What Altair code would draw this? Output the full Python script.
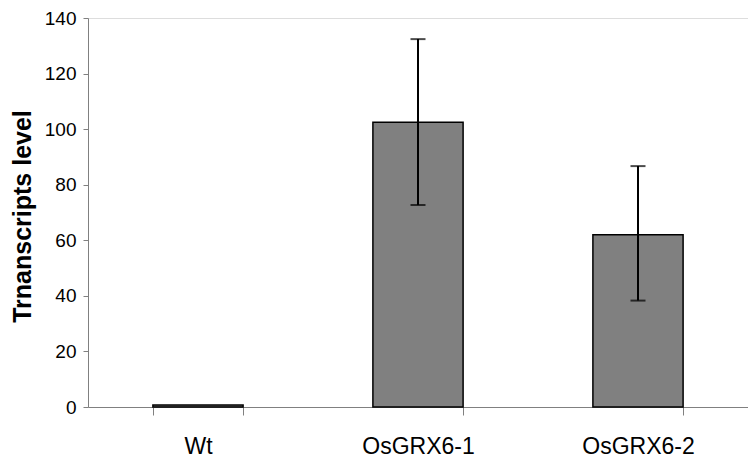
import altair as alt
import pandas as pd

categories = ["Wt", "OsGRX6-1", "OsGRX6-2"]
values = [0.7, 102.5, 62.0]
err_low = [0.7, 72.7, 38.3]
err_high = [0.7, 132.4, 86.7]

df = pd.DataFrame({"cat": categories, "val": values, "lo": err_low, "hi": err_high})
df_err = df[df["cat"] != "Wt"]

FONT = "Liberation Sans"

x = alt.X("cat:N", sort=categories, title=None,
          scale=alt.Scale(paddingInner=0.59, paddingOuter=0.295),
          axis=alt.Axis(labelAngle=0, labelFontSize=23, labelFont=FONT, labelColor="black",
                        tickBand="extent", tickSize=8, tickColor="#808080", domainColor="#808080",
                        labelPadding=20, grid=False))
y = alt.Y("val:Q", title="Trnanscripts level",
          scale=alt.Scale(domain=[0, 140], nice=False),
          axis=alt.Axis(values=[0, 20, 40, 60, 80, 100, 120, 140], labelFontSize=19, labelFont=FONT,
                        labelColor="black", tickSize=5, tickColor="#808080", domainColor="#808080",
                        labelPadding=7, grid=False, titleFont=FONT, titleFontSize=25,
                        titleFontWeight="bold", titleColor="black", titleX=-66, titleY=198,
                        titleBaseline="middle", titleAlign="center"))

bars = alt.Chart(df).mark_bar(color="#808080", stroke="black", strokeWidth=1.5).encode(x=x, y=y)

rules = alt.Chart(df_err).mark_rule(color="black", strokeWidth=2).encode(
    x=alt.X("cat:N", sort=categories), y="lo:Q", y2="hi:Q")
caps_hi = alt.Chart(df_err).mark_tick(color="black", thickness=2, size=15, orient="horizontal").encode(
    x=alt.X("cat:N", sort=categories), y="hi:Q")
caps_lo = alt.Chart(df_err).mark_tick(color="black", thickness=2, size=15, orient="horizontal").encode(
    x=alt.X("cat:N", sort=categories), y="lo:Q")

chart = alt.layer(bars, rules, caps_hi, caps_lo).properties(
    width=660, height=389,
    autosize=alt.AutoSizeParams(type="none"),
    padding={"left": 80, "top": 10, "right": 0, "bottom": 50},
).configure_view(stroke="#808080", strokeWidth=1.5).configure(background="white")

chart.save("out.html", embed_options={"renderer": "svg", "actions": False})
